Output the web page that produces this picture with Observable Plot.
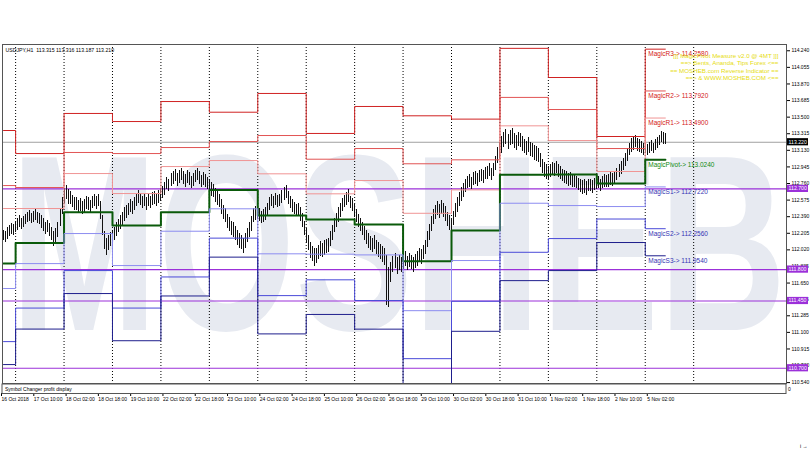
<!DOCTYPE html>
<html><head><meta charset="utf-8">
<script src="https://cdn.jsdelivr.net/npm/d3@7"></script>
<script src="https://cdn.jsdelivr.net/npm/@observablehq/plot@0.6"></script>
<style>html,body{margin:0;padding:0;background:#fff;overflow:hidden}#chart{width:810px;height:450px}#chart svg{display:block}</style>
</head><body><div id="chart"></div>
<script>
// ---------- data ----------
const header = "USDJPY,H1  113.315 113.316 113.187 113.210";
const infoLines = ["[[[ MagicPivot Measure v2.0 @ 4MT ]]]", "==> Bents, Ananda, Tips Forex <==", "== MOSHEB.com Reverse Indicator ==", "==> & WWW.MOSHEB.COM <=="];
const watermark = "MOSHEB";
const barLow = [
112.12,112.10,112.14,112.17,112.19,112.18, 112.21,112.24,112.27,112.25,112.27,112.30,
112.32,112.34,112.31,112.33,112.35,112.31, 112.30,112.26,112.23,112.19,112.21,112.17,
112.12,112.06,112.10,112.16,112.28,112.42, 112.54,112.58,112.53,112.53,112.49,112.46,
112.46,112.43,112.45,112.42,112.44,112.47, 112.46,112.43,112.48,112.50,112.47,112.50,
112.36,112.18,112.02,111.96,112.01,112.06, 112.07,112.12,112.17,112.21,112.25,112.29,
112.34,112.37,112.40,112.44,112.42,112.46, 112.50,112.54,112.51,112.48,112.50,112.46,
112.50,112.48,112.52,112.53,112.50,112.54, 112.56,112.59,112.63,112.69,112.67,112.73,
112.75,112.78,112.73,112.76,112.79,112.75, 112.72,112.76,112.74,112.70,112.73,112.77,
112.79,112.75,112.71,112.74,112.72,112.69, 112.66,112.62,112.60,112.55,112.52,112.49,
112.42,112.36,112.32,112.26,112.22,112.18, 112.16,112.12,112.07,112.04,112.02,111.98,
112.04,112.10,112.16,112.23,112.32,112.35, 112.37,112.34,112.31,112.33,112.35,112.40,
112.46,112.50,112.48,112.51,112.49,112.50, 112.54,112.57,112.59,112.53,112.48,112.44,
112.41,112.39,112.40,112.34,112.27,112.18, 112.09,112.01,111.92,111.89,111.84,111.87,
111.91,111.95,111.93,111.96,111.98,111.99, 112.06,112.13,112.21,112.27,112.33,112.38,
112.45,112.49,112.52,112.55,112.48,112.45, 112.38,112.32,112.27,112.22,112.18,112.13,
112.08,112.04,112.01,111.99,112.02,111.97, 111.94,111.91,111.88,111.85,111.40,111.38,
111.66,111.77,111.81,111.75,111.79,111.77, 111.80,111.84,111.79,111.82,111.80,111.77,
111.81,111.84,111.88,111.86,111.91,111.97, 112.05,112.13,112.22,112.30,112.36,112.40,
112.37,112.41,112.38,112.34,112.28,112.24, 112.21,112.29,112.38,112.44,112.50,112.56,
112.60,112.66,112.70,112.72,112.69,112.74, 112.75,112.73,112.77,112.78,112.76,112.80,
112.81,112.84,112.79,112.84,112.90,112.98, 113.04,113.10,113.16,113.19,113.14,113.18,
113.20,113.15,113.13,113.17,113.16,113.12, 113.09,113.07,113.11,113.06,113.05,113.02,
113.01,112.99,112.94,112.87,112.83,112.81, 112.81,112.83,112.85,112.84,112.87,112.83,
112.81,112.78,112.76,112.75,112.73,112.74, 112.72,112.71,112.70,112.68,112.66,112.64,
112.65,112.63,112.67,112.67,112.65,112.68, 112.69,112.70,112.67,112.70,112.72,112.71,
112.72,112.74,112.73,112.75,112.79,112.83, 112.86,112.90,112.95,113.01,113.07,113.11,
113.13,113.16,113.12,113.11,113.09,113.07, 113.09,113.07,113.10,113.12,113.09,113.13,
113.15,113.18,113.22,113.20,113.19];
const barHigh = [
112.24,112.23,112.27,112.29,112.31,112.30, 112.33,112.37,112.40,112.37,112.39,112.42,
112.44,112.46,112.43,112.45,112.47,112.44, 112.43,112.40,112.37,112.33,112.35,112.31,
112.27,112.22,112.26,112.33,112.47,112.60, 112.70,112.74,112.69,112.67,112.63,112.60,
112.60,112.57,112.59,112.56,112.58,112.61, 112.60,112.57,112.62,112.64,112.61,112.64,
112.56,112.40,112.22,112.15,112.18,112.21, 112.22,112.27,112.32,112.36,112.40,112.44,
112.49,112.51,112.54,112.58,112.56,112.60, 112.64,112.68,112.65,112.62,112.64,112.60,
112.64,112.62,112.66,112.67,112.64,112.68, 112.70,112.73,112.77,112.83,112.81,112.87,
112.89,112.92,112.87,112.90,112.93,112.89, 112.86,112.90,112.88,112.84,112.87,112.91,
112.93,112.89,112.85,112.88,112.86,112.83, 112.81,112.77,112.75,112.70,112.67,112.64,
112.58,112.52,112.48,112.42,112.38,112.34, 112.32,112.28,112.24,112.20,112.18,112.15,
112.20,112.26,112.32,112.39,112.48,112.50, 112.51,112.48,112.45,112.47,112.49,112.54,
112.60,112.64,112.62,112.65,112.63,112.64, 112.68,112.71,112.74,112.67,112.62,112.58,
112.55,112.53,112.54,112.49,112.43,112.34, 112.26,112.18,112.10,112.06,112.03,112.04,
112.07,112.11,112.09,112.12,112.14,112.15, 112.22,112.29,112.37,112.43,112.49,112.54,
112.59,112.63,112.66,112.69,112.62,112.59, 112.53,112.47,112.42,112.37,112.33,112.28,
112.24,112.20,112.17,112.15,112.18,112.13, 112.10,112.08,112.06,112.03,111.96,111.82,
111.88,111.95,111.98,111.93,111.96,111.94, 111.96,112.00,111.95,111.98,111.96,111.93,
111.97,112.00,112.04,112.02,112.07,112.13, 112.22,112.30,112.39,112.47,112.52,112.56,
112.53,112.57,112.54,112.50,112.44,112.40, 112.37,112.45,112.54,112.60,112.66,112.72,
112.76,112.80,112.84,112.86,112.83,112.88, 112.89,112.87,112.91,112.92,112.90,112.94,
112.95,112.98,112.93,112.98,113.06,113.16, 113.22,113.28,113.33,113.36,113.31,113.35,
113.37,113.32,113.30,113.33,113.32,113.28, 113.25,113.23,113.27,113.22,113.21,113.18,
113.17,113.15,113.10,113.03,112.99,112.97, 112.95,112.97,112.99,112.98,113.01,112.97,
112.95,112.92,112.90,112.89,112.87,112.88, 112.86,112.85,112.84,112.82,112.81,112.79,
112.80,112.78,112.81,112.81,112.79,112.82, 112.83,112.84,112.81,112.84,112.86,112.85,
112.86,112.88,112.87,112.89,112.93,112.97, 113.00,113.04,113.09,113.15,113.21,113.26,
113.27,113.30,113.26,113.25,113.23,113.21, 113.21,113.19,113.22,113.24,113.21,113.25,
113.27,113.30,113.34,113.33,113.32];

// daily pivot levels (one value per trading day, first bar index of each day)
const dayStart = [0,6,30,54,78,102,126,150,174,198,222,246,270,294,318];
const lastBar = 328;
const levelR3 = [113.351,113.094,113.541,113.451,113.674,113.555,113.764,113.318,113.619,113.515,113.478,114.267,113.942,113.284,114.258];
const levelR2 = [112.737,112.715,113.106,113.094,113.161,113.228,113.295,113.031,113.150,112.980,113.024,113.720,113.585,113.150,113.792];
const levelR1 = [112.481,112.481,112.871,112.648,112.949,113.016,112.868,112.645,112.793,112.428,112.689,113.403,113.239,112.894,113.490];
const levelP  = [111.867,112.098,112.440,112.291,112.440,112.689,112.403,112.358,112.302,111.893,112.235,112.857,112.860,112.760,113.024];
const levelS1 = [111.589,111.867,112.202,111.845,112.228,112.478,111.976,111.972,111.964,111.342,111.901,112.540,112.514,112.503,112.722];
const levelS2 = [110.997,111.371,111.789,111.371,111.718,112.151,111.510,111.686,111.455,110.807,111.447,111.993,112.146,112.364,112.256];
const levelS3 = [110.741,111.137,111.533,111.007,111.506,111.939,111.083,111.300,111.136,110.200,111.112,111.677,111.789,112.102,111.954];

const separators = [6,30,54,78,102,126,150,174,198,222,246,270,294,318,342];
const priceLines = [112.700, 111.800, 111.450, 110.700];
const currentPrice = 113.220;
const yTicks = [114.240,114.055,113.870,113.685,113.500,113.315,113.130,112.945,112.760,112.575,112.390,112.205,112.020,111.835,111.650,111.465,111.285,111.100,110.915,110.730,110.540];
const xLabelIdx = [0,16,32,48,64,80,96,112,128,144,160,176,192,208,224,240,256,272,288,304,320];
const xLabels = ["16 Oct 2018","17 Oct 10:00","18 Oct 02:00","18 Oct 18:00","19 Oct 10:00","22 Oct 02:00","22 Oct 18:00","23 Oct 10:00","24 Oct 02:00","24 Oct 18:00","25 Oct 10:00","26 Oct 02:00","26 Oct 18:00","29 Oct 10:00","30 Oct 02:00","30 Oct 18:00","31 Oct 10:00","1 Nov 02:00","1 Nov 18:00","2 Nov 10:00","5 Nov 02:00"];

// ---------- build ----------
const bars = barLow.map((l, i) => ({i, low: l, high: barHigh[i]}));
const levels = [
  {name: "R3", vals: levelR3, color: "#d02222", label: "#d42020", w: 1},
  {name: "R2", vals: levelR2, color: "#e25454", label: "#d42020", w: 1},
  {name: "R1", vals: levelR1, color: "#f09494", label: "#d42020", w: 1},
  {name: "Pivot", vals: levelP, color: "#0a5a0a", label: "#108a10", w: 2},
  {name: "S1", vals: levelS1, color: "#8c8cf0", label: "#3434b4", w: 1},
  {name: "S2", vals: levelS2, color: "#4a4ad8", label: "#3434b4", w: 1},
  {name: "S3", vals: levelS3, color: "#1e1e8c", label: "#3434b4", w: 1}
];
function steps(lv) {
  const pts = dayStart.map((s, k) => ({i: s, v: lv.vals[k]}));
  pts.push({i: lastBar, v: lv.vals[lv.vals.length - 1]});
  return pts;
}
const lastDay = dayStart[dayStart.length - 1];
const labelRows = levels.map(lv => ({i: lastDay, v: lv.vals[lv.vals.length - 1], t: `Magic${lv.name}-> ${lv.vals[lv.vals.length - 1].toFixed(4)}`, c: lv.label}));
const font = "Liberation Sans, Arial, sans-serif";

const plot = Plot.plot({
  width: 810, height: 450,
  marginTop: 44, marginBottom: 67, marginLeft: 2, marginRight: 24,
  x: {domain: [-0.5, 388], axis: null},
  y: {domain: [110.53, 114.31], axis: null},
  style: {fontFamily: font, background: "#fff"},
  marks: [
    Plot.text([watermark], {frameAnchor: "left", text: d => d, textAnchor: "start", fontSize: 250, fontWeight: "bold", fill: "#e7eaf1", dy: 36, dx: 8}),
    Plot.ruleX(separators, {x: d => d, stroke: "#000", strokeDasharray: "1,2", strokeWidth: 1}),
    Plot.ruleY([currentPrice], {y: d => d, stroke: "#a0a0a0"}),
    Plot.ruleY(priceLines, {y: d => d, stroke: "#9b30d9", strokeWidth: 1.2}),
    Plot.ruleX(bars, {x: "i", y1: "low", y2: "high", stroke: "#111", strokeWidth: 1, shapeRendering: "crispEdges"}),
    ...levels.map(lv => Plot.line(steps(lv), {x: "i", y: "v", curve: "step-after", stroke: lv.color, strokeWidth: lv.w, clip: true})),
    Plot.text(labelRows, {x: "i", y: "v", text: "t", fill: "c", textAnchor: "start", dx: 3, dy: 5, fontSize: 6.5}),
    Plot.text([infoLines.join("\n")], {frameAnchor: "top-right", text: d => d, textAnchor: "end", dx: -8, dy: 8, fontSize: 6.2, lineHeight: 1.2, fill: "#e6dc10"}),
    Plot.text([header], {frameAnchor: "top-left", text: d => d, textAnchor: "start", dx: 3, dy: 4, fontSize: 5.2, fill: "#000"}),
    Plot.frame({stroke: "#555", strokeWidth: 1}),
    Plot.axisY(yTicks, {anchor: "right", tickSize: 3, tickPadding: 2, tickFormat: d => d.toFixed(3), fontSize: 5, fill: "#000", stroke: "#000"}),
    Plot.axisX(xLabelIdx, {anchor: "bottom", tickSize: 3, tickPadding: 1, dy: 10, tickFormat: d => xLabels[xLabelIdx.indexOf(d)], textAnchor: "start", dx: -2, fontSize: 5, fill: "#000", stroke: "#000"})
  ]
});
document.getElementById("chart").appendChild(plot);

// ---------- MT4 chrome: watermark width, subwindow, price boxes ----------
const svg = d3.select(plot);
svg.selectAll("text").filter(function() { return this.textContent === watermark; })
  .attr("textLength", 776).attr("lengthAdjust", "spacingAndGlyphs");
const xs = plot.scale("x"), ys = plot.scale("y");
const x0 = xs.range[0], x1 = xs.range[1], yb = ys.range[0];
svg.append("rect").attr("x", x0).attr("y", yb + 1).attr("width", x1 - x0).attr("height", 9.5).attr("fill", "#fff").attr("stroke", "#555");
svg.append("text").attr("x", x0 + 3).attr("y", yb + 8).attr("text-anchor", "start").attr("font-size", 5).attr("font-family", font).text("Symbol Changer profit display");
svg.append("text").attr("x", x1 + 2).attr("y", yb + 7.5).attr("text-anchor", "start").attr("font-size", 5).attr("font-family", font).text("0");
function box(v, bg) {
  const y = ys.apply(v);
  svg.append("rect").attr("x", x1 + 1).attr("y", y - 3.6).attr("width", 21).attr("height", 7.2).attr("fill", bg);
  svg.append("text").attr("x", x1 + 2.5).attr("y", y + 2).attr("text-anchor", "start").attr("font-size", 5.2).attr("font-family", font).attr("fill", "#fff").text(v.toFixed(3));
}
box(currentPrice, "#000");
priceLines.forEach(v => box(v, "#9b30d9"));
</script></body></html>
